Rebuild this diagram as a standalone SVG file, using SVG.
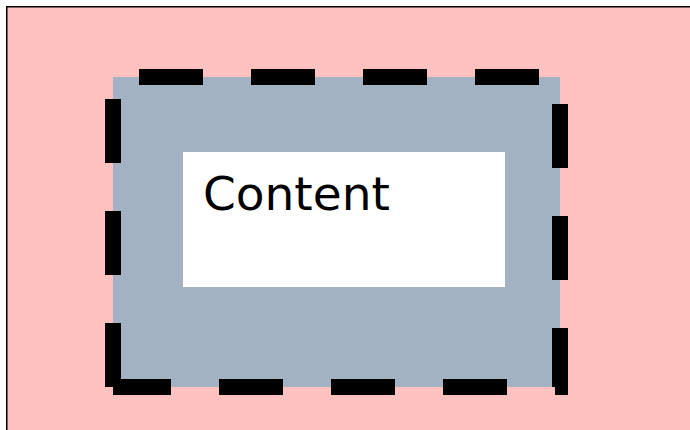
<svg xmlns="http://www.w3.org/2000/svg" width="690" height="430" viewBox="0 0 690 430">
  <style>
    .margin { fill: #FFC0C0; stroke: #000; stroke-width: 1.5; }
    .padding { fill: #A2B2C2; }
    .border { fill: none; stroke: #000; stroke-width: 16; stroke-dasharray: 64 48; stroke-linejoin: miter; }
    .content { fill: #FFFFFF; }
    .label { font-family: "DejaVu Sans", Verdana, sans-serif; font-size: 47px; fill: #000; }
  </style>
  <rect width="690" height="430" fill="#FFFFFF"/>
  <g id="margin-box">
    <rect class="margin" x="6.75" y="6.75" width="720" height="460"/>
  </g>
  <g id="padding-box">
    <rect class="padding" x="113" y="77" width="447" height="310"/>
  </g>
  <g id="border-box">
    <!-- dashed border starts at the bottom-left corner and runs clockwise -->
    <path class="border" d="M113,387 V77 H560 V387 H113"/>
  </g>
  <g id="content-box">
    <rect class="content" x="183" y="152" width="322" height="135"/>
    <text class="label" x="203" y="210">Content</text>
  </g>
</svg>
